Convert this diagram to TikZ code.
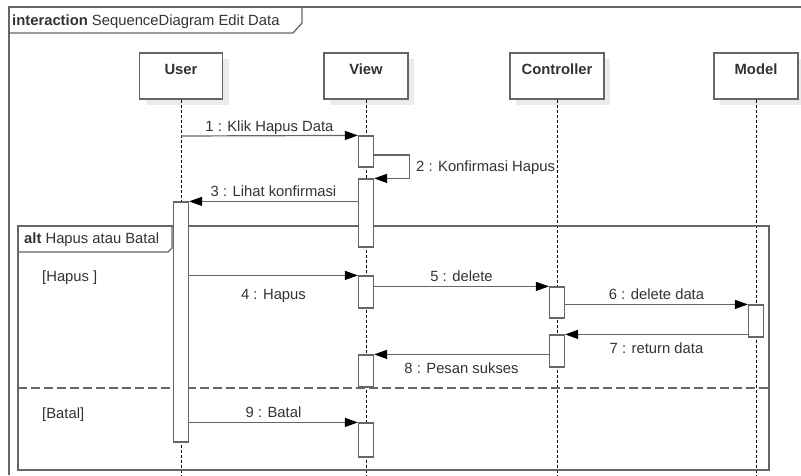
\documentclass[tikz,border=0pt]{standalone}
\usepackage{fontspec}
\setmainfont{Liberation Sans}
\usetikzlibrary{arrows.meta,shadows}
\definecolor{linec}{HTML}{666666}
\definecolor{txtc}{HTML}{333333}
\begin{document}
\begin{tikzpicture}[x=1pt,y=-1pt,
  every node/.style={font=\fontsize{14.8}{17}\selectfont, text=txtc},
  lifebox/.style={draw=linec, line width=1.2pt, fill=white, minimum height=46pt,
    text height=15pt, text depth=19pt, inner ysep=6pt, inner xsep=0pt,
    font=\fontsize{14.8}{17}\selectfont\bfseries,
    drop shadow={shadow xshift=6pt, shadow yshift=-6pt, fill=black!8, opacity=1}},
  lifeline/.style={draw=black, line width=0.9pt, dash pattern=on 3pt off 2pt},
  act/.style={draw=linec, line width=1.2pt, fill=white, minimum width=15pt, inner sep=0pt},
  msg/.style={draw=linec, line width=1.2pt, -{Triangle[length=13pt,width=9pt,color=black]}},
  lbl/.style={inner sep=1pt, text height=11pt, text depth=3pt},
  frameline/.style={draw=linec, line width=1.3pt},
  plain/.style={anchor=base west, inner sep=0pt}
]
\useasboundingbox (0,0) rectangle (801,475);
\coordinate (bottom) at (0,475);

% outer interaction frame
\draw[frameline] (9,475) -- (9,7) -- (801,7);
\draw[frameline] (9,33) -- (293,33) -- (302,23) -- (302,7);
\node[plain] (title) at (12,25) {\textbf{interaction} SequenceDiagram Edit Data};

% lifeline heads
\node[lifebox, minimum width=83pt] (user) at (181,76) {User};
\node[lifebox, minimum width=84pt] (view) at (366,76) {View};
\node[lifebox, minimum width=94pt] (ctrl) at (557,76) {Controller};
\node[lifebox, minimum width=84pt] (model) at (756,76) {Model};

% lifelines
\draw[lifeline] (user.south) -- (user.south |- bottom);
\draw[lifeline] (view.south) -- (view.south |- bottom);
\draw[lifeline] (ctrl.south) -- (ctrl.south |- bottom);
\draw[lifeline] (model.south) -- (model.south |- bottom);

% alt fragment
\draw[frameline] (18,226) rectangle (769,470);
\draw[frameline] (18,252) -- (168,252) -- (172,248) -- (172,226);
\node[plain] (alttitle) at (24,243) {\textbf{alt} Hapus atau Batal};
\draw[frameline, dash pattern=on 9pt off 4pt] (18,388) -- (769,388);
\node[plain] (g1) at (42,281) {[Hapus ]};
\node[plain] (g2) at (42,418) {[Batal]};

% activations
\node[act, minimum height=31pt] (v1) at (366,151.5) {};
\node[act, minimum height=68pt] (v2) at (366,213) {};
\node[act, minimum height=240pt] (u1) at (181,322) {};
\node[act, minimum height=32pt] (v3) at (366,292) {};
\node[act, minimum height=31pt] (c1) at (557,302.5) {};
\node[act, minimum height=32pt] (m1) at (756,321) {};
\node[act, minimum height=32pt] (c2) at (557,351) {};
\node[act, minimum height=32pt] (v4) at (366,371) {};
\node[act, minimum height=34pt] (v5) at (366,440) {};

% messages
\coordinate (s1) at (181,136);
\draw[msg] (s1) -- (v1.north west) node[lbl, midway, above] (l1) {1 : Klik Hapus Data};
\draw[msg] ([yshift=-3.5pt]v1.east) -- ++(35,0) |- (v2.north east);
\node[plain] (l2) at (416,171) {2 : Konfirmasi Hapus};
\draw[msg] (v2.west |- u1.north) -- (u1.north east) node[lbl, midway, above] (l3) {3 : Lihat konfirmasi};
\draw[msg] (u1.east |- v3.north) -- (v3.north west) node[lbl, midway, below=11.5pt] (l4) {4 : Hapus};
\draw[msg] (v3.east |- c1.north) -- (c1.north west) node[lbl, midway, above] (l5) {5 : delete};
\draw[msg] (c1.east |- m1.north) -- (m1.north west) node[lbl, midway, above] (l6) {6 : delete data};
\draw[msg] (m1.west |- c2.north) -- (c2.north east) node[lbl, midway, below=6.5pt] (l7) {7 : return data};
\draw[msg] (c2.west |- v4.north) -- (v4.north east) node[lbl, midway, below=6.5pt] (l8) {8 : Pesan sukses};
\draw[msg] (u1.east |- v5.north) -- (v5.north west) node[lbl, midway, above] (l9) {9 : Batal};
\end{tikzpicture}
\end{document}
